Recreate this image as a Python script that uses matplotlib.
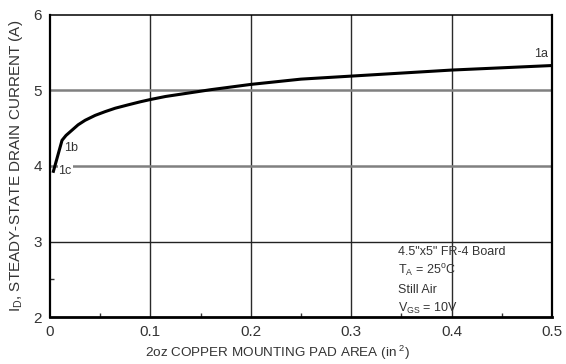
import matplotlib
matplotlib.use("Agg")
import matplotlib.pyplot as plt
from matplotlib.ticker import MultipleLocator, FixedLocator

plt.rcParams['font.family'] = ['Liberation Sans', 'DejaVu Sans']
plt.rcParams['mathtext.default'] = 'regular'

# Steady-state drain current vs. copper pad area
pad_area = [0.003, 0.012, 0.016, 0.022, 0.028, 0.035, 0.045, 0.055, 0.065,
            0.078, 0.09, 0.1, 0.115, 0.13, 0.16, 0.2, 0.25, 0.3, 0.35,
            0.4, 0.45, 0.5]
drain_current = [3.91, 4.34, 4.405, 4.475, 4.545, 4.605, 4.67, 4.72, 4.765,
                 4.81, 4.85, 4.88, 4.92, 4.95, 5.01, 5.08, 5.15, 5.19, 5.23,
                 5.27, 5.30, 5.33]

x_ticks = [0, 0.1, 0.2, 0.3, 0.4, 0.5]
x_tick_labels = ['0', '0.1', '0.2', '0.3', '0.4', '0.5']
y_ticks = [2, 3, 4, 5, 6]

conditions = ['4.5"x5" FR-4 Board',
              'T$_A$ = 25$^o$C',
              'Still Air',
              'V$_{GS}$ = 10V']

fig = plt.figure(figsize=(5.66, 3.64), dpi=100)
ax = fig.add_axes([0.0883, 0.129, 0.8870, 0.830])

ax.set_xlim(0, 0.5)
ax.set_ylim(2, 6)

# grid lines
for xv in x_ticks[1:-1]:
    ax.axvline(xv, color='#2a2a2a', lw=1.0, zorder=1)
for yv in (4, 5):
    ax.axhline(yv, color='#808080', lw=1.8, zorder=1)
ax.axhline(3, color='#222222', lw=1.0, zorder=1)

ax.plot(pad_area, drain_current, color='black', lw=2.2, zorder=3,
        solid_capstyle='butt', solid_joinstyle='round')

text_color = '#333333'
ax.text(0.4965, 5.40, '1a', fontsize=9, color=text_color, ha='right', va='bottom')
ax.text(0.0145, 4.24, '1b', fontsize=9, color=text_color, ha='left', va='center')
ax.text(0.0085, 3.93, '1c', fontsize=9, color=text_color, ha='left', va='center',
        zorder=2, bbox=dict(facecolor='white', edgecolor='none', pad=0.5))

for i, line in enumerate(conditions):
    ax.text(0.347, 2.86 - i * 0.25, line, fontsize=9, color=text_color,
            ha='left', va='center')

ax.set_xticks(x_ticks)
ax.set_xticklabels(x_tick_labels)
ax.set_yticks(y_ticks)
ax.xaxis.set_minor_locator(MultipleLocator(0.05))
ax.yaxis.set_minor_locator(FixedLocator([2.5]))
ax.tick_params(which='both', direction='in', color='#333333', labelcolor=text_color,
               labelsize=11)
ax.tick_params(which='major', length=0, pad=6)
ax.tick_params(which='minor', length=3, width=1)

ax.spines['bottom'].set_linewidth(2.0)
for side in ('left', 'right'):
    ax.spines[side].set_linewidth(1.6)
for side in ('left', 'bottom', 'right', 'top'):
    ax.spines[side].set_color('black')
ax.spines['top'].set_linewidth(1.1)

ax.set_xlabel('2oz COPPER MOUNTING PAD AREA (in$^{\\ 2}$)', fontsize=9.7,
              color=text_color, labelpad=1)
ax.xaxis.set_label_coords(0.454, -0.088)
ax.set_ylabel('I$_D$, STEADY-STATE DRAIN CURRENT (A)', fontsize=11,
              color=text_color, labelpad=6)

fig.savefig('out.png', dpi=100, facecolor='white')
